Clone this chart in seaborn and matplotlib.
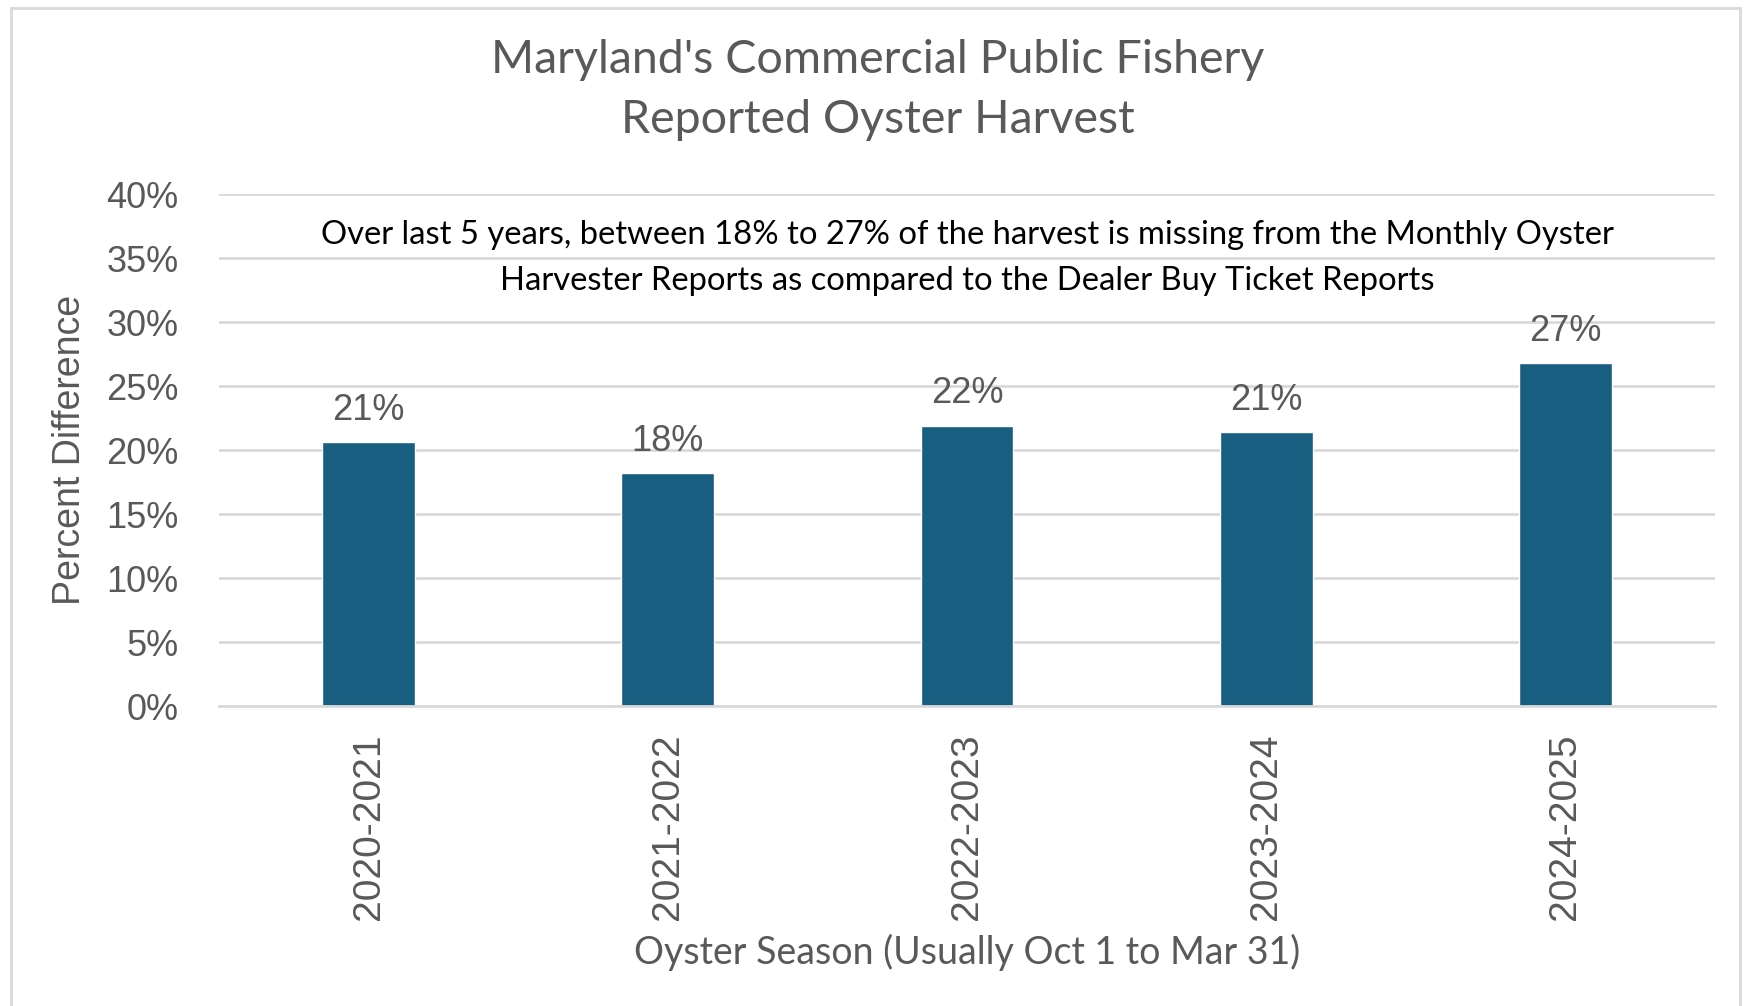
import matplotlib
matplotlib.use("Agg")
import matplotlib.pyplot as plt
import seaborn as sns
import pandas as pd

seasons = ["2020-2021", "2021-2022", "2022-2023", "2023-2024", "2024-2025"]
pct_diff = [20.6, 18.2, 21.9, 21.4, 26.8]
y_ticks = [0, 5, 10, 15, 20, 25, 30, 35, 40]

title = "Maryland's Commercial Public Fishery\nReported Oyster Harvest"
note = ("Over last 5 years, between 18% to 27% of the harvest is missing from the Monthly Oyster\n"
        "Harvester Reports as compared to the Dealer Buy Ticket Reports")

df = pd.DataFrame({"season": seasons, "pct": pct_diff})

sns.set_theme(style="white")
plt.rcParams["font.family"] = ["Liberation Sans", "DejaVu Sans"]

grey = "#595959"
bar_col = "#185E80"

fig = plt.figure(figsize=(17.52, 10.06), dpi=100)
ax = fig.add_axes([219 / 1752, 1 - 706 / 1006, (1715 - 219) / 1752, 512 / 1006])

sns.barplot(data=df, x="season", y="pct", color=bar_col, width=0.31,
            saturation=1, ax=ax, zorder=3)

ax.set_ylim(0, 40)
ax.set_xlim(-0.5, 4.5)
ax.set_yticks(y_ticks)
ax.set_yticklabels([f"{t}%" for t in y_ticks])
ax.grid(axis="y", color="#D9D9D9", linewidth=2, zorder=0)
ax.grid(axis="x", visible=False)
for s in ["top", "right", "left"]:
    ax.spines[s].set_visible(False)
ax.spines["bottom"].set_color("#D9D9D9")
ax.spines["bottom"].set_linewidth(2)
ax.spines["bottom"].set_zorder(4)

ax.tick_params(axis="y", length=0, pad=29, labelsize=26, labelcolor=grey)
ax.tick_params(axis="x", length=0, pad=20, labelsize=28, labelcolor=grey,
               rotation=90)

for i, v in enumerate(pct_diff):
    ax.annotate(f"{v:.0f}%", (i, v), xytext=(0, 16), textcoords="offset points",
                ha="center", va="baseline", fontsize=26, color=grey)

ax.set_ylabel("Percent Difference", fontsize=27, color=grey, va="center")
ax.yaxis.set_label_coords(-0.0996, 0.5)
ax.set_xlabel("Oyster Season (Usually Oct 1 to Mar 31)", fontsize=27,
              color=grey, family=["Lato", "DejaVu Sans"], va="center")
ax.xaxis.set_label_coords(0.5, -0.482)

ax.text(2, 35.0, note, ha="center", va="center", multialignment="center",
        fontsize=23.6, color="black", family=["Lato", "DejaVu Sans"],
        linespacing=1.67)

fig.text(878 / 1752, 1 - 90 / 1006, title, ha="center", va="center",
         fontsize=33.5, color=grey, family=["Lato", "DejaVu Sans"],
         linespacing=1.54)

# light frame around the chart area
frame = plt.Rectangle((11 / 1752, -0.05), (1740 - 11) / 1752, 1.05 - 8 / 1006,
                      transform=fig.transFigure, fill=False,
                      edgecolor="#D9D9D9", linewidth=2)
fig.add_artist(frame)

fig.savefig("out.png", dpi=100)
